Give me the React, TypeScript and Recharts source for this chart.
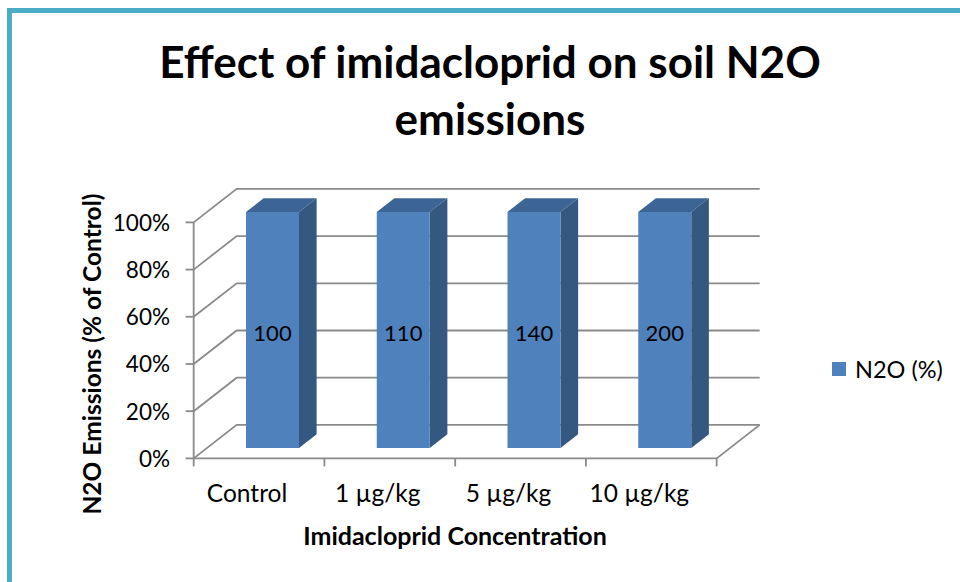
import React from 'react';
import { BarChart, Bar, XAxis, YAxis, CartesianGrid, ReferenceArea } from 'recharts';

const CATEGORIES = ['Control', '1 µg/kg', '5 µg/kg', '10 µg/kg'];
const N2O_VALUES = [100, 110, 140, 200];
const Y_TICKS = [0, 0.2, 0.4, 0.6, 0.8, 1];

const data = CATEGORIES.map((name, i) => ({ name, n2o: N2O_VALUES[i] }));

const FONT = 'Lato, "Open Sans", sans-serif';
const BLUE = '#4F81BD';
const BLUE_TOP = '#3C6494';
const BLUE_SIDE = '#34587F';
const GRID = '#8a8a8a';
const TEAL = '#4BACC6';

// fake 3d: depth vector of the whole floor, bars sit a bit inside it
const DX = 43;
const DY = -33.5;
const BAR_FRONT = 0.31;
const BAR_DEPTH = 0.41;
const FX = -BAR_FRONT * DX; // bar plane -> front plane
const FY = -BAR_FRONT * DY;
const BX = (1 - BAR_FRONT) * DX; // bar plane -> back wall
const BY = (1 - BAR_FRONT) * DY;

const MARGIN = { top: 212, right: 230, bottom: 94, left: 167 };
const Y_AXIS_W = 40;
const X_AXIS_H = 40;
const PLOT_LEFT = MARGIN.left + Y_AXIS_W;
const PLOT_BOTTOM = 582 - MARGIN.bottom - X_AXIS_H;

function Box3D(props: any) {
  const { x, y, width, height, payload } = props;
  if (!height) return null;
  const bx = BAR_DEPTH * DX;
  const by = BAR_DEPTH * DY;
  return (
    <g>
      <polygon
        points={`${x},${y} ${x + width},${y} ${x + width + bx},${y + by} ${x + bx},${y + by}`}
        fill={BLUE_TOP}
      />
      <polygon
        points={`${x + width},${y} ${x + width + bx},${y + by} ${x + width + bx},${y + height + by} ${x + width},${y + height}`}
        fill={BLUE_SIDE}
      />
      <rect x={x} y={y} width={width} height={height} fill={BLUE} />
      <text
        x={x + width / 2}
        y={y + height / 2 + 2}
        textAnchor="middle"
        dominantBaseline="central"
        fontFamily={FONT}
        fontSize={22}
        fill="#000"
      >
        {payload.n2o}
      </text>
    </g>
  );
}

// back wall line + side wall diagonal for each y tick
function GridLine(props: any) {
  const { x1, y1, x2, y2 } = props;
  return (
    <polyline
      points={`${x1 + FX},${y1 + FY} ${x1 + BX},${y1 + BY} ${x2 + BX},${y2 + BY}`}
      fill="none"
      stroke={GRID}
      strokeWidth={1.8}
    />
  );
}

// front axis line, floor edge, category tick marks
function Frame(props: any) {
  const { x, y, width, height } = props;
  const bottom = y + height;
  const n = CATEGORIES.length;
  const marks = [];
  for (let k = 0; k <= n; k++) {
    const mx = x + FX + (k * width) / n;
    marks.push(<line key={k} x1={mx} y1={bottom + FY} x2={mx} y2={bottom + FY + 8} stroke={GRID} strokeWidth={1.8} />);
  }
  return (
    <g>
      <line x1={x + FX} y1={y + FY} x2={x + FX} y2={bottom + FY} stroke={GRID} strokeWidth={1.8} />
      <polyline
        points={`${x + FX},${bottom + FY} ${x + width + FX},${bottom + FY} ${x + width + BX},${bottom + BY}`}
        fill="none"
        stroke={GRID}
        strokeWidth={1.8}
      />
      {marks}
    </g>
  );
}

function YTick(props: any) {
  const { y, payload } = props;
  const fy = y + FY;
  return (
    <g>
      <line x1={PLOT_LEFT + FX - 8} y1={fy} x2={PLOT_LEFT + FX} y2={fy} stroke={GRID} strokeWidth={1.8} />
      <text x={170} y={fy} textAnchor="end" dominantBaseline="central" fontFamily={FONT} fontSize={22.5} fill="#000">
        {Math.round(payload.value * 100)}%
      </text>
    </g>
  );
}

function XTick(props: any) {
  const { x, payload } = props;
  return (
    <text x={x + FX - 12} y={PLOT_BOTTOM + FY + 34} textAnchor="middle" dominantBaseline="central" fontFamily={FONT} fontSize={24.5} fill="#000">
      {payload.value}
    </text>
  );
}

export default function App() {
  return (
    <div style={{ position: 'relative', width: 960, height: 582, overflow: 'hidden', background: '#fff' }}>
      <style>{'body{margin:0}'}</style>
      <div
        style={{
          position: 'absolute', left: 7, top: 8, width: 1200, height: 1200,
          borderLeft: `5px solid ${TEAL}`, borderTop: `5px solid ${TEAL}`,
        }}
      />
      <div style={{ position: 'absolute', left: 0, top: 0 }}>
        <BarChart width={960} height={582} data={data} stackOffset="expand" margin={MARGIN} barSize={53}>
          <CartesianGrid horizontal={<GridLine />} vertical={false} />
          <XAxis dataKey="name" height={X_AXIS_H} axisLine={false} tickLine={false} tick={<XTick />} interval={0} />
          <YAxis
            type="number"
            domain={[0, 1]}
            ticks={Y_TICKS}
            width={Y_AXIS_W}
            axisLine={false}
            tickLine={false}
            tick={<YTick />}
          />
          <ReferenceArea y1={0} y2={1} shape={<Frame />} fill="none" />
          <Bar dataKey="n2o" stackId="a" fill={BLUE} shape={<Box3D />} isAnimationActive={false} />
        </BarChart>
      </div>
      <svg width={960} height={582} style={{ position: 'absolute', left: 0, top: 0, pointerEvents: 'none' }}>
        <text x={490} y={78} textAnchor="middle" fontFamily={FONT} fontWeight={700} fontSize={44} fill="#000">
          Effect of imidacloprid on soil N2O
        </text>
        <text x={490} y={135} textAnchor="middle" fontFamily={FONT} fontWeight={700} fontSize={44} fill="#000">
          emissions
        </text>
        <text
          x={91}
          y={354}
          transform="rotate(-90 91 354)"
          textAnchor="middle"
          dominantBaseline="central"
          fontFamily={FONT}
          fontWeight={700}
          fontSize={24.5}
          fill="#000"
        >
          N2O Emissions (% of Control)
        </text>
        <text x={455} y={535} textAnchor="middle" dominantBaseline="central" fontFamily={FONT} fontWeight={700} fontSize={25} fill="#000">
          Imidacloprid Concentration
        </text>
        <rect x={832} y={362} width={14} height={14} fill={BLUE} />
        <text x={855} y={369} dominantBaseline="central" fontFamily={FONT} fontSize={23.5} fill="#000">
          N2O (%)
        </text>
      </svg>
    </div>
  );
}
